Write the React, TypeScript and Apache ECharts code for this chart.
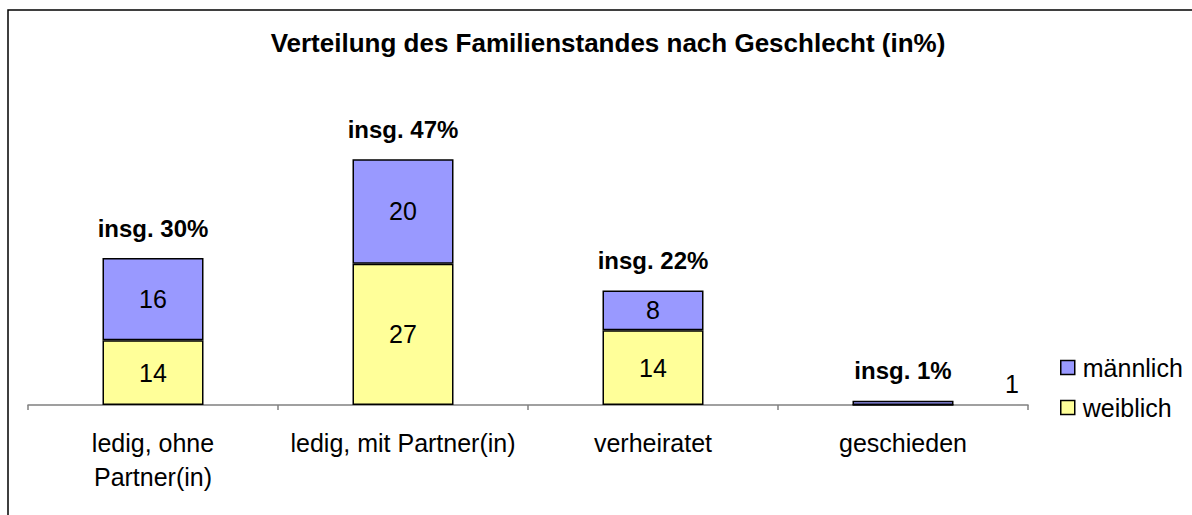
import React, { useEffect, useRef } from "react";
import * as echarts from "echarts";

const titleText = "Verteilung des Familienstandes nach Geschlecht (in%)";
const categories = ["ledig, ohne\nPartner(in)", "ledig, mit Partner(in)", "verheiratet", "geschieden"];
// bar heights (percent units)
const weiblich = [12.4, 27, 14.3, 0];
const maennlich = [15.7, 20, 7.6, 0.8];
// printed labels
const weiblichLabels = ["14", "27", "14", ""];
const maennlichLabels = ["16", "20", "8", "1"];
const totalLabels = ["insg. 30%", "insg. 47%", "insg. 22%", "insg. 1%"];

const FONT = "'Liberation Sans', Arial, sans-serif";

export default function App() {
  const ref = useRef<HTMLDivElement>(null);
  useEffect(() => {
    if (!ref.current) return;
    const chart = echarts.init(ref.current, undefined, { renderer: "svg" });
    chart.setOption({
      animation: false,
      backgroundColor: "#ffffff",
      textStyle: { fontFamily: FONT },
      title: {
        text: titleText,
        left: 603,
        top: 25,
        textAlign: "center",
        textStyle: { fontFamily: FONT, fontSize: 26, fontWeight: "bold", color: "#000" },
      },
      graphic: [
        {
          type: "rect",
          shape: { x: 8, y: 10, width: 1200, height: 520 },
          style: { fill: "none", stroke: "#000", lineWidth: 1.5 },
          silent: true,
        },
      ],
      legend: {
        orient: "vertical",
        left: 1055,
        top: 350,
        itemWidth: 14,
        itemHeight: 14,
        itemGap: 15,
        icon: "rect",
        data: ["männlich", "weiblich"],
        textStyle: { fontFamily: FONT, fontSize: 25, color: "#000", padding: [0, 0, 0, 3] },
        itemStyle: { borderColor: "#000", borderWidth: 1.5 },
      },
      grid: { left: 28, right: 164, top: 143.5, bottom: 110 },
      xAxis: {
        type: "category",
        data: categories,
        axisLine: { lineStyle: { color: "#808080", width: 1.5 } },
        axisTick: { show: true, length: 5, lineStyle: { color: "#808080", width: 1.5 } },
        axisLabel: {
          interval: 0,
          margin: 21,
          fontFamily: FONT,
          fontSize: 25,
          lineHeight: 34,
          color: "#000",
        },
      },
      yAxis: {
        type: "value",
        min: 0,
        max: 50,
        show: false,
        splitLine: { show: false },
      },
      series: [
        {
          name: "weiblich",
          type: "bar",
          stack: "s",
          barWidth: 101,
          data: weiblich.map((v, i) => ({
            value: v,
            label: { show: weiblichLabels[i] !== "" },
          })),
          itemStyle: { color: "#FFFF99", borderColor: "#000", borderWidth: 1.5 },
          label: {
            show: true,
            position: "inside",
            fontFamily: FONT,
            fontSize: 25,
            color: "#000",
            formatter: (p: any) => weiblichLabels[p.dataIndex],
          },
        },
        {
          name: "männlich",
          type: "bar",
          stack: "s",
          barWidth: 101,
          data: maennlich.map((v, i) =>
            i === 3
              ? { value: v, label: { position: "inside", offset: [109, -19] } }
              : { value: v }
          ),
          itemStyle: { color: "#9999FF", borderColor: "#000", borderWidth: 1.5 },
          label: {
            show: true,
            position: "inside",
            fontFamily: FONT,
            fontSize: 25,
            color: "#000",
            formatter: (p: any) => maennlichLabels[p.dataIndex],
          },
        },
        {
          name: "gesamt",
          type: "bar",
          stack: "s",
          barWidth: 101,
          data: totalLabels.map(() => 0),
          itemStyle: { color: "transparent", borderWidth: 0 },
          label: {
            show: true,
            position: "top",
            distance: 18,
            fontFamily: FONT,
            fontSize: 24,
            fontWeight: "bold",
            color: "#000",
            formatter: (p: any) => totalLabels[p.dataIndex],
          },
        },
      ],
    });
    return () => chart.dispose();
  }, []);
  return (
    <div
      ref={ref}
      style={{ position: "absolute", left: 0, top: 0, width: 1192, height: 515 }}
    />
  );
}
